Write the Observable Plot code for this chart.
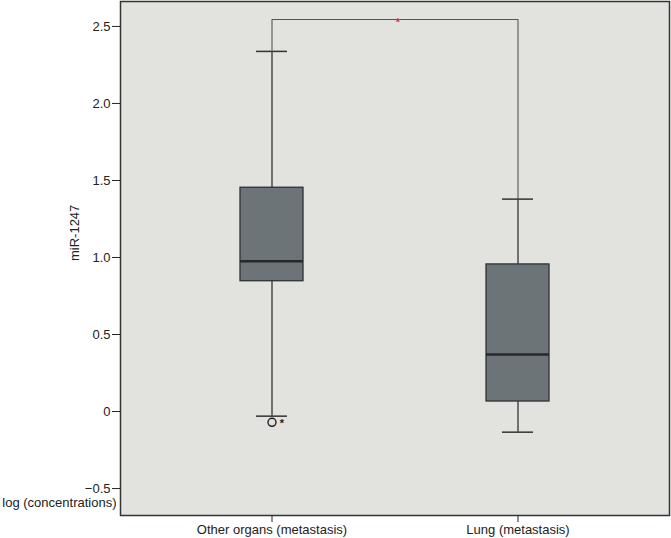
<!DOCTYPE html>
<html>
<head>
<meta charset="utf-8">
<script src="https://cdn.jsdelivr.net/npm/d3@7"></script>
<script src="https://cdn.jsdelivr.net/npm/@observablehq/plot@0.6"></script>
<style>
  html, body { margin: 0; padding: 0; background: #fff; }
  #chart svg { display: block; }
</style>
</head>
<body>
<div id="chart"></div>
<script>
const groups = ["Other organs (metastasis)", "Lung (metastasis)"];
const q1 = [0.846, 0.065];
const medians = [0.976, 0.37];
const q3 = [1.453, 0.955];
const whiskerLow = [-0.03, -0.134];
const whiskerHigh = [2.338, 1.379];
const outlierGroup = ["Other organs (metastasis)"];
const outlierValue = [-0.07];
const bracketY = 2.545;
const yTicks = [-0.5, 0, 0.5, 1.0, 1.5, 2.0, 2.5];

const boxes = groups.map((g, i) => ({
  group: g, q1: q1[i], median: medians[i], q3: q3[i], lo: whiskerLow[i], hi: whiskerHigh[i]
}));
const outliers = outlierGroup.map((g, i) => ({group: g, value: outlierValue[i]}));
const bracket = [
  {group: groups[0], y: whiskerHigh[0]},
  {group: groups[0], y: bracketY},
  {group: groups[1], y: bracketY},
  {group: groups[1], y: whiskerHigh[1]}
];

const chart = Plot.plot({
  width: 671,
  height: 538,
  marginLeft: 120,
  marginRight: 2,
  marginTop: 1,
  marginBottom: 23,
  style: {fontFamily: "'Liberation Sans', Arial, sans-serif", fontSize: "13px", color: "#222", background: "#fff"},
  x: {domain: groups, paddingInner: 0.745, paddingOuter: 0.484, label: null, tickSize: 7, tickPadding: 2},
  y: {domain: [-0.675, 2.662], ticks: yTicks, tickFormat: d => d === 0 ? "0" : (d < 0 ? "\u2212" + Math.abs(d).toFixed(1) : d.toFixed(1)), label: null, tickSize: 8, tickPadding: 2},
  marks: [
    Plot.frame({fill: "#e2e2de", stroke: "none"}),
    Plot.ruleX(boxes, {x: "group", y1: "lo", y2: "q1", stroke: "#333", strokeWidth: 1.3}),
    Plot.ruleX(boxes, {x: "group", y1: "q3", y2: "hi", stroke: "#333", strokeWidth: 1.3}),
    Plot.tickY(boxes, {x: "group", y: "lo", stroke: "#333", strokeWidth: 1.5, insetLeft: 16, insetRight: 16}),
    Plot.tickY(boxes, {x: "group", y: "hi", stroke: "#333", strokeWidth: 1.5, insetLeft: 16, insetRight: 16}),
    Plot.barY(boxes, {x: "group", y1: "q1", y2: "q3", fill: "#6d7477", stroke: "#2e3234", strokeWidth: 1.3}),
    Plot.tickY(boxes, {x: "group", y: "median", stroke: "#25292b", strokeWidth: 2.6}),
    Plot.line(bracket, {x: "group", y: "y", stroke: "#555", strokeWidth: 1.1}),
    Plot.text(["*"], {frameAnchor: "middle", y: bracketY, text: d => d, fill: "#e0303a", fontSize: 11, fontWeight: "bold", dx: 3, dy: 3}),
    Plot.dot(outliers, {x: "group", y: "value", r: 4, stroke: "#222", strokeWidth: 1.4, fill: "none"}),
    Plot.text(outliers, {x: "group", y: "value", text: () => "*", dx: 10, dy: 1, fontSize: 11, fontWeight: "bold", fill: "#222"}),
    Plot.text(["miR-1247"], {frameAnchor: "left", y: 1.16, text: d => d, rotate: -90, textAnchor: "middle", dx: -46, fontSize: 13, fill: "#222"}),
    Plot.text(["log (concentrations)"], {frameAnchor: "left", y: -0.59, text: d => d, textAnchor: "end", dx: -4, fontSize: 13, fill: "#222"}),
    Plot.frame({stroke: "#333", strokeWidth: 1.5})
  ]
});
document.getElementById("chart").appendChild(chart);
</script>
</body>
</html>
